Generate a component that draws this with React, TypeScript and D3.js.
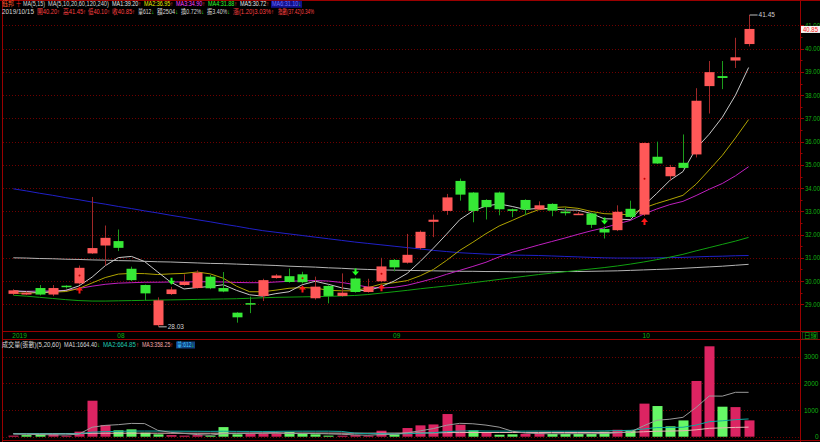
import React, { useLayoutEffect, useRef } from 'react';
import * as d3 from 'd3';

// daily candles, 2019/07/22 .. 2019/10/15
const opens = [29.45, 29.42, 29.70, 29.42, 29.80, 29.90, 31.19, 31.53, 31.72, 30.53, 29.83, 28.10, 29.44, 29.83, 29.70, 30.19, 29.70, 28.64, 29.05, 29.36, 30.13, 30.21, 30.29, 29.26, 29.79, 29.36, 30.11, 29.53, 29.99, 30.91, 30.79, 31.42, 32.55, 33.02, 34.31, 33.81, 33.49, 33.81, 33.09, 33.49, 33.08, 33.32, 32.99, 32.86, 32.91, 32.24, 32.19, 33.11, 32.86, 35.35, 34.51, 35.09, 35.45, 38.39, 38.82, 39.49, 40.20];
const highs = [29.65, 29.55, 29.83, 29.83, 29.82, 30.67, 33.62, 32.39, 32.22, 30.62, 29.85, 29.30, 29.75, 30.29, 30.46, 30.26, 30.39, 28.66, 29.33, 30.10, 30.30, 30.54, 30.40, 30.19, 29.82, 30.33, 30.15, 30.10, 31.00, 30.95, 32.03, 32.18, 32.86, 33.75, 34.41, 33.83, 33.52, 33.85, 33.12, 33.52, 33.43, 33.35, 33.15, 32.98, 32.95, 32.35, 33.26, 33.46, 35.96, 36.00, 35.00, 36.31, 38.30, 39.47, 39.47, 40.47, 41.45];
const lows = [29.40, 29.40, 29.38, 29.35, 29.68, 29.85, 31.17, 30.67, 31.29, 30.00, 29.18, 28.03, 29.40, 29.80, 29.68, 29.65, 29.52, 28.21, 28.62, 29.14, 30.10, 29.93, 29.90, 29.20, 29.04, 29.33, 29.50, 29.50, 29.95, 30.42, 30.75, 31.36, 31.89, 32.85, 33.46, 32.53, 32.65, 32.83, 32.75, 32.83, 33.05, 32.79, 32.82, 32.85, 32.28, 31.83, 32.15, 32.72, 32.80, 35.04, 34.33, 34.85, 35.32, 37.21, 38.26, 39.17, 40.10];
const closes = [29.60, 29.50, 29.42, 29.70, 29.76, 30.57, 31.42, 31.86, 31.43, 30.04, 29.47, 29.17, 29.64, 29.97, 30.36, 29.69, 29.55, 28.44, 29.02, 30.04, 30.24, 29.96, 29.95, 29.76, 29.36, 29.50, 29.53, 29.76, 30.63, 30.59, 31.13, 32.12, 32.64, 33.60, 33.72, 33.02, 33.18, 33.09, 33.02, 33.08, 33.26, 33.03, 32.92, 32.90, 32.42, 32.09, 32.98, 32.76, 35.94, 35.06, 34.91, 34.87, 37.76, 38.99, 38.74, 39.63, 40.85];
const volumes = [40, 60, 90, 100, 40, 190, 1350, 440, 240, 275, 150, 90, 60, 40, 60, 40, 360, 90, 110, 110, 110, 175, 110, 90, 40, 40, 60, 40, 225, 90, 325, 425, 460, 850, 450, 240, 175, 75, 90, 110, 150, 100, 100, 100, 100, 190, 260, 240, 1240, 1150, 390, 610, 2090, 3390, 1125, 1110, 612];

// moving averages
const ma5 = [29.58, 29.55, 29.50, 29.55, 29.60, 29.79, 30.17, 30.66, 31.01, 31.06, 30.84, 30.39, 29.95, 29.66, 29.72, 29.77, 29.84, 29.60, 29.41, 29.35, 29.46, 29.54, 29.84, 29.99, 29.86, 29.71, 29.62, 29.58, 29.76, 30.00, 30.33, 30.85, 31.42, 32.02, 32.64, 33.02, 33.23, 33.32, 33.21, 33.08, 33.13, 33.10, 33.06, 33.05, 32.91, 32.68, 32.67, 32.64, 33.24, 33.77, 34.33, 34.71, 35.71, 36.32, 37.05, 38.00, 39.19];
const ma10 = [29.48, 29.48, 29.50, 29.52, 29.55, 29.68, 29.92, 30.15, 30.30, 30.33, 30.32, 30.28, 30.31, 30.33, 30.39, 30.31, 30.12, 29.78, 29.54, 29.54, 29.61, 29.69, 29.72, 29.70, 29.60, 29.58, 29.58, 29.71, 29.87, 29.93, 30.02, 30.23, 30.50, 30.89, 31.32, 31.67, 32.04, 32.37, 32.61, 32.86, 33.07, 33.16, 33.19, 33.13, 33.00, 32.90, 32.88, 32.85, 33.14, 33.34, 33.51, 33.69, 34.17, 34.78, 35.41, 36.16, 36.95];
const ma20 = [29.55, 29.56, 29.57, 29.58, 29.60, 29.68, 29.78, 29.86, 29.91, 29.93, 29.95, 29.95, 29.96, 29.96, 29.97, 29.97, 29.96, 29.94, 29.93, 29.93, 29.96, 29.99, 30.01, 30.02, 30.00, 29.94, 29.85, 29.74, 29.70, 29.73, 29.82, 29.96, 30.11, 30.29, 30.46, 30.63, 30.81, 31.04, 31.24, 31.39, 31.55, 31.70, 31.85, 32.01, 32.16, 32.29, 32.46, 32.61, 32.88, 33.10, 33.29, 33.43, 33.68, 33.95, 34.20, 34.53, 34.92];
const ma60 = [29.39, 29.35, 29.30, 29.25, 29.20, 29.16, 29.14, 29.14, 29.15, 29.16, 29.17, 29.18, 29.19, 29.20, 29.21, 29.22, 29.23, 29.24, 29.26, 29.28, 29.30, 29.31, 29.32, 29.33, 29.34, 29.36, 29.38, 29.42, 29.48, 29.54, 29.60, 29.67, 29.73, 29.79, 29.86, 29.93, 30.00, 30.07, 30.14, 30.21, 30.28, 30.34, 30.40, 30.46, 30.52, 30.58, 30.65, 30.73, 30.82, 30.92, 31.03, 31.15, 31.30, 31.44, 31.58, 31.72, 31.88];
const ma120 = [31.00, 30.99, 30.97, 30.96, 30.94, 30.93, 30.91, 30.90, 30.88, 30.87, 30.85, 30.83, 30.82, 30.80, 30.78, 30.76, 30.75, 30.73, 30.71, 30.69, 30.67, 30.64, 30.62, 30.60, 30.57, 30.55, 30.52, 30.50, 30.48, 30.47, 30.46, 30.45, 30.44, 30.43, 30.42, 30.42, 30.41, 30.41, 30.40, 30.40, 30.40, 30.40, 30.41, 30.41, 30.42, 30.43, 30.44, 30.46, 30.48, 30.50, 30.52, 30.55, 30.58, 30.61, 30.64, 30.68, 30.72];
const ma240 = [33.97, 33.88, 33.78, 33.69, 33.59, 33.50, 33.40, 33.31, 33.21, 33.12, 33.02, 32.93, 32.83, 32.74, 32.64, 32.55, 32.45, 32.36, 32.26, 32.17, 32.10, 32.03, 31.96, 31.89, 31.82, 31.75, 31.68, 31.62, 31.56, 31.50, 31.44, 31.38, 31.32, 31.27, 31.22, 31.19, 31.16, 31.14, 31.12, 31.11, 31.10, 31.08, 31.06, 31.04, 31.02, 31.00, 30.99, 30.99, 30.99, 31.00, 31.01, 31.02, 31.04, 31.06, 31.07, 31.09, 31.10];

const volMa5 = [100, 90, 80, 70, 66, 96, 354, 424, 452, 499, 491, 239, 163, 123, 80, 58, 112, 118, 132, 142, 156, 119, 123, 119, 105, 91, 68, 54, 81, 91, 148, 221, 305, 430, 502, 485, 435, 358, 206, 138, 120, 105, 110, 112, 110, 118, 150, 178, 406, 616, 656, 726, 1096, 1526, 1521, 1665, 1664];
const volMa20 = [110, 108, 106, 105, 104, 110, 170, 190, 200, 210, 212, 210, 208, 205, 203, 200, 205, 200, 198, 197, 200, 206, 207, 207, 207, 199, 135, 115, 114, 105, 113, 130, 150, 191, 210, 220, 211, 210, 209, 209, 211, 207, 207, 207, 210, 218, 228, 238, 289, 342, 345, 354, 436, 563, 596, 640, 665];
const volMa60 = [118, 118, 118, 119, 119, 121, 128, 130, 131, 132, 132, 131, 131, 130, 130, 129, 133, 133, 133, 133, 134, 135, 135, 135, 134, 133, 132, 131, 133, 133, 135, 139, 144, 152, 156, 158, 158, 157, 157, 158, 159, 158, 158, 158, 158, 160, 162, 165, 185, 205, 212, 222, 258, 314, 331, 348, 358];

const monthLabels = ['2019', '08', '09', '10'];
const monthStarts = [0, 8, 29, 48];
const priceTicks = [29, 30, 31, 32, 33, 34, 35, 36, 37, 38, 39, 40, 41];
const volTicks = [0, 1000, 2000, 3000];
const buySignals = [5, 22, 28, 48];
const sellSignals = [12, 26, 45];

const FONT = '"Liberation Sans", "Noto Sans CJK TC", sans-serif';
const RED = '#ff4040';
const DN = '#22e022';
const WHITE = '#d8d8d8';
const FRAME = '#9a0000';
const GRID = '#6e0000';
const AXIS_TXT = '#10b010';

type Part = [string, string];
interface Seg { x: number; w: number; parts: Part[]; bg?: string }

const row1: Seg[] = [
    { x: 2, w: 12, parts: [['鈺邦', '#ff5a30']] },
    { x: 16, w: 5, parts: [['十', '#ff2020']] },
    { x: 23, w: 22, parts: [['MA(5,15)', WHITE]] },
    { x: 48, w: 61, parts: [['MA(5,10,20,60,120,240)', WHITE]] },
    { x: 112, w: 29, parts: [['MA1:39.20', '#e8e8e8'], ['↑', RED]] },
    { x: 144, w: 29, parts: [['MA2:36.95', '#e8e800'], ['↑', RED]] },
    { x: 176, w: 29, parts: [['MA3:34.90', '#ff40ff'], ['↑', RED]] },
    { x: 208, w: 29, parts: [['MA4:31.88', '#30ff30'], ['↑', RED]] },
    { x: 240, w: 29, parts: [['MA5:30.72', '#e8e8e8'], ['↑', RED]] },
    { x: 272, w: 29, parts: [['MA6:31.10', '#7070ff'], ['↓', DN]], bg: '#10108a' },
];
const row2: Seg[] = [
    { x: 2, w: 32, parts: [['2019/10/15', WHITE]] },
    { x: 37, w: 23, parts: [['開40.20', RED], ['↑', RED]] },
    { x: 63, w: 23, parts: [['高41.45', RED], ['↑', RED]] },
    { x: 88, w: 22, parts: [['低40.10', RED], ['↑', RED]] },
    { x: 112, w: 23, parts: [['收40.85', RED], ['↑', RED]] },
    { x: 138, w: 16, parts: [['量612', WHITE], ['↓', DN]] },
    { x: 157, w: 21, parts: [['額2504', WHITE], ['↓', DN]] },
    { x: 181, w: 23, parts: [['換0.72%', WHITE], ['↓', DN]] },
    { x: 207, w: 23, parts: [['振3.40%', WHITE], ['↓', DN]] },
    { x: 233, w: 41, parts: [['漲(1.20)3.03%', RED], ['↑', RED]] },
    { x: 278, w: 36, parts: [['指數(37.42)0.34%', RED]] },
];
const volRow: Seg[] = [
    { x: 2, w: 59, parts: [['成交量(張數)(5,20,60)', WHITE]] },
    { x: 64, w: 36, parts: [['MA1:1664.40', WHITE], ['↓', DN]] },
    { x: 103, w: 36, parts: [['MA2:664.85', '#20c8b0'], ['↑', RED]] },
    { x: 142, w: 31, parts: [['MA3:358.25', '#f0a8a8'], ['↑', RED]] },
    { x: 177, w: 17, parts: [['量:612', '#40c8ff'], ['↓', DN]], bg: '#104080' },
];

// squeeze a text horizontally so it fits its slot
const FitText = ({ s, y }: { s: Seg; y: number }) => {
    const ref = useRef<SVGTextElement | null>(null);
    useLayoutEffect(() => {
        const el = ref.current;
        if (!el) return;
        const len = el.getComputedTextLength();
        if (len > s.w) {
            const k = s.w / len;
            el.setAttribute('transform', `translate(${s.x},0) scale(${k},1) translate(${-s.x},0)`);
        }
    }, [s]);
    return (
        <text ref={ref} x={s.x} y={y} fontSize={6.5} fontFamily={FONT}>
            {s.parts.map(([t, c], j) => <tspan key={j} fill={c}>{t}</tspan>)}
        </text>
    );
};

const HeaderRow = ({ segs, y }: { segs: Seg[]; y: number }) => (
    <g>
        {segs.map((s, k) => (
            <g key={k}>
                {s.bg && <rect x={s.x - 1} y={y - 5.5} width={s.w + 2} height={7} fill={s.bg} />}
                <FitText s={s} y={y} />
            </g>
        ))}
    </g>
);

export default function App() {
    const n = closes.length;
    const x = d3.scaleLinear().domain([0, n - 1]).range([13.3, 748.6]);
    const y = d3.scaleLinear().domain([29, 40]).range([304.3, 48.7]);
    const yv = d3.scaleLinear().domain([0, 3000]).range([436.7, 356.7]);
    const bodyW = 10;

    const priceLine = d3.line<number>().x((_, i) => x(i)).y(d => y(d));
    const volLine = d3.line<number>().x((_, i) => x(i)).y(d => yv(d));

    const maLines: [number[], string][] = [
        [ma240, '#2020c8'],
        [ma120, '#b4b4b4'],
        [ma60, '#10a010'],
        [ma20, '#c020c0'],
        [ma10, '#b0a400'],
        [ma5, '#c8c8c8'],
    ];
    const volMaLines: [number[], string][] = [
        [volMa60, '#e8b4b4'],
        [volMa20, '#10a8a0'],
        [volMa5, '#9a9a9a'],
    ];

    const hiIdx = d3.maxIndex(highs);
    const loIdx = d3.minIndex(lows);
    const last = closes[n - 1];
    const minorTicks = d3.range(29, 41.01, 0.5);

    return (
        <div>
            <style>{'body{margin:0;background:#000}'}</style>
            <svg width={820} height={442} style={{ display: 'block', background: '#000' }}>
                <rect x={0} y={0} width={820} height={442} fill="#000" />

                {/* grid */}
                {priceTicks.map(t => (
                    <line key={t} x1={3} x2={800} y1={Math.round(y(t)) + 0.5} y2={Math.round(y(t)) + 0.5}
                        stroke={GRID} strokeDasharray="1,2" />
                ))}
                {volTicks.map(t => (
                    <line key={t} x1={3} x2={800} y1={Math.round(yv(t)) + 0.5} y2={Math.round(yv(t)) + 0.5}
                        stroke={GRID} strokeDasharray="1,2" />
                ))}

                {/* frame */}
                <line x1={0} x2={820} y1={0.5} y2={0.5} stroke={FRAME} />
                <line x1={2.5} x2={2.5} y1={0} y2={442} stroke={FRAME} />
                <line x1={800.5} x2={800.5} y1={0} y2={442} stroke={FRAME} />
                <line x1={2} x2={820} y1={331.5} y2={331.5} stroke={FRAME} />
                <line x1={2} x2={820} y1={339.5} y2={339.5} stroke={FRAME} />
                <line x1={2} x2={820} y1={440.5} y2={440.5} stroke={FRAME} />

                {/* right price axis */}
                {minorTicks.map(t => (
                    <line key={t} x1={800} x2={t % 1 === 0 ? 804 : 802.5} y1={Math.round(y(t)) + 0.5} y2={Math.round(y(t)) + 0.5} stroke={FRAME} />
                ))}
                {priceTicks.map(t => (
                    <text key={t} x={805} y={y(t) + 2.5} fontSize={6.5} fill={AXIS_TXT} fontFamily={FONT}
                        textLength={15} lengthAdjust="spacingAndGlyphs">{t.toFixed(2)}</text>
                ))}
                {volTicks.map(t => (
                    <text key={t} x={t === 0 ? 815 : 804} y={yv(t) + 2.5} fontSize={6.5} fill={AXIS_TXT} fontFamily={FONT}>{t}</text>
                ))}
                <rect x={801} y={y(last) - 3} width={19} height={7} fill="#f4f4f4" />
                <text x={803} y={y(last) + 2.8} fontSize={6.5} fill="#ff2020" fontFamily={FONT}
                    textLength={15} lengthAdjust="spacingAndGlyphs">{last.toFixed(2)}</text>

                {/* time axis */}
                {monthStarts.map((m, k) => (
                    <text key={k} x={x(m) - 1} y={337.6} fontSize={6.5} fill={AXIS_TXT} fontFamily={FONT}>{monthLabels[k]}</text>
                ))}
                <rect x={802.5} y={332.5} width={15} height={6.5} fill="none" stroke="#1a5a1a" strokeWidth={0.6} />
                <text x={804} y={337.6} fontSize={6.5} fill={AXIS_TXT} fontFamily={FONT}>日線</text>

                {/* moving averages */}
                {maLines.map(([d, c], k) => (
                    <path key={k} d={priceLine(d) || ''} fill="none" stroke={c} strokeWidth={1} />
                ))}

                {/* candles */}
                {closes.map((c, i) => {
                    const o = opens[i];
                    const isUp = c >= o;
                    const cx = Math.round(x(i)) + 0.5;
                    const top = y(Math.max(o, c));
                    const h = Math.max(1.5, Math.abs(y(o) - y(c)));
                    return (
                        <g key={i}>
                            <line x1={cx} x2={cx} y1={y(highs[i])} y2={y(lows[i])} stroke={isUp ? '#a02828' : '#1c9c1c'} />
                            <rect x={cx - bodyW / 2} y={top} width={bodyW} height={h} fill={isUp ? '#ff5858' : '#36e836'} />
                        </g>
                    );
                })}

                {/* signals */}
                {buySignals.map(i => {
                    const cx = Math.round(x(i)) + 0.5;
                    const t = y(lows[i]) + 2;
                    return (
                        <g key={i} fill="#ff1818">
                            <circle cx={cx} cy={(y(opens[i]) + y(closes[i])) / 2} r={1} fill="#c00000" />
                            <path d={`M${cx},${t} L${cx + 3.5},${t + 4} L${cx + 1},${t + 4} L${cx + 1},${t + 7} L${cx - 1},${t + 7} L${cx - 1},${t + 4} L${cx - 3.5},${t + 4} Z`} />
                        </g>
                    );
                })}
                {sellSignals.map(i => {
                    const cx = Math.round(x(i)) + 0.5;
                    const b = y(highs[i]) - 2;
                    return (
                        <path key={i} fill="#22ff22"
                            d={`M${cx},${b} L${cx + 3.5},${b - 4} L${cx + 1},${b - 4} L${cx + 1},${b - 7} L${cx - 1},${b - 7} L${cx - 1},${b - 4} L${cx - 3.5},${b - 4} Z`} />
                    );
                })}

                {/* high / low markers */}
                <line x1={x(hiIdx) + 1} x2={x(hiIdx) + 9} y1={y(highs[hiIdx])} y2={y(highs[hiIdx])} stroke="#bcbcbc" />
                <text x={x(hiIdx) + 10} y={y(highs[hiIdx]) + 2.3} fontSize={6.5} fill="#d0d0d0" fontFamily={FONT}>{highs[hiIdx].toFixed(2)}</text>
                <line x1={x(loIdx) + 1} x2={x(loIdx) + 9} y1={y(lows[loIdx])} y2={y(lows[loIdx])} stroke="#bcbcbc" />
                <text x={x(loIdx) + 10} y={y(lows[loIdx]) + 2.3} fontSize={6.5} fill="#d0d0d0" fontFamily={FONT}>{lows[loIdx].toFixed(2)}</text>

                {/* volume bars */}
                {volumes.map((v, i) => {
                    const prev = i > 0 ? closes[i - 1] : opens[i];
                    const isUp = closes[i] >= prev;
                    const cx = Math.round(x(i)) + 0.5;
                    return (
                        <rect key={i} x={cx - bodyW / 2} y={yv(v)} width={bodyW} height={yv(0) - yv(v)}
                            fill={isUp ? '#dc2462' : '#66f866'} />
                    );
                })}
                {volMaLines.map(([d, c], k) => (
                    <path key={k} d={volLine(d) || ''} fill="none" stroke={c} strokeWidth={1} />
                ))}

                {/* headers */}
                <HeaderRow segs={row1} y={6.3} />
                <HeaderRow segs={row2} y={13.9} />
                <HeaderRow segs={volRow} y={347} />
            </svg>
        </div>
    );
}
